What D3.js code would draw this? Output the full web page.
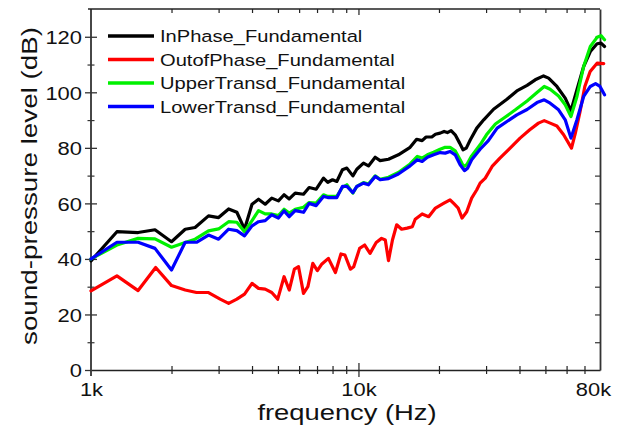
<!DOCTYPE html>
<html>
<head>
<meta charset="utf-8">
<script src="https://cdn.jsdelivr.net/npm/d3@7"></script>
<style>
  html, body { margin: 0; padding: 0; background: #fff; }
  svg { display: block; }
</style>
</head>
<body>
<div id="chart"></div>
<script>
// frequencies in kHz, levels in dB
const freqInPhase = [1.0, 1.25, 1.5, 1.735, 2.0, 2.25, 2.45, 2.75, 3.0, 3.27, 3.51, 3.75, 4.0, 4.23, 4.48, 4.74, 5.02, 5.27, 5.51, 5.8, 6.23, 6.54, 6.95, 7.4, 7.68, 8.0, 8.3, 8.71, 9.05, 9.53, 9.86, 10.44, 10.9, 11.55, 12.05, 12.95, 14.1, 15.6, 16.5, 17.3, 17.9, 18.8, 19.4, 20.2, 20.9, 21.5, 22.2, 23.0, 23.9, 24.6, 25.3, 26.2, 27.7, 29.4, 32.0, 35.9, 39.1, 42.7, 45.8, 49.2, 51.4, 55.2, 59.3, 62.3, 65.6, 69.5, 73.6, 78.0, 80.7, 83.2];
const dbInPhase = [39.3, 49.8, 49.5, 50.5, 46.2, 50.7, 51.3, 55.5, 54.9, 58.0, 56.8, 50.7, 59.7, 61.5, 59.7, 61.9, 60.9, 63.1, 61.6, 63.7, 63.3, 65.7, 65.1, 69.1, 67.6, 68.5, 67.9, 72.1, 72.7, 69.9, 72.3, 74.5, 73.5, 76.6, 75.4, 75.9, 77.5, 80.2, 83.1, 82.6, 83.9, 83.9, 84.9, 85.3, 85.9, 85.5, 86.2, 84.7, 81.7, 79.3, 79.9, 82.9, 87.1, 90.1, 93.9, 97.5, 100.5, 102.5, 104.5, 105.9, 105.1, 102.1, 97.9, 93.4, 100.9, 109.3, 114.7, 117.5, 117.7, 116.5];

const freqOutPhase = [1.0, 1.25, 1.5, 1.745, 2.0, 2.25, 2.48, 2.75, 3.04, 3.27, 3.51, 3.75, 4.0, 4.23, 4.48, 4.74, 4.99, 5.27, 5.51, 5.76, 5.97, 6.23, 6.47, 6.75, 7.02, 7.3, 7.72, 8.2, 8.6, 8.9, 9.33, 9.6, 10.1, 10.55, 11.05, 11.65, 12.2, 12.6, 12.95, 13.4, 13.9, 14.5, 15.2, 15.9, 16.3, 17.3, 18.3, 19.4, 20.8, 22.0, 22.8, 23.6, 24.4, 25.4, 26.5, 27.7, 28.5, 29.8, 31.6, 33.8, 36.9, 40.2, 43.7, 47.1, 49.5, 52.1, 55.2, 58.5, 62.6, 64.7, 67.4, 70.2, 73.5, 78.0, 82.6];
const dbOutPhase = [28.5, 33.9, 28.6, 36.9, 30.4, 28.8, 27.9, 27.9, 25.5, 24.0, 25.5, 27.3, 31.2, 29.4, 29.1, 27.9, 25.5, 33.6, 28.8, 36.3, 37.2, 27.6, 30.0, 38.4, 35.8, 38.2, 40.2, 35.1, 41.8, 41.4, 36.3, 37.2, 43.8, 45.0, 42.0, 45.9, 47.4, 46.8, 39.4, 46.8, 52.3, 50.7, 51.1, 51.6, 54.3, 56.2, 55.2, 58.3, 60.0, 61.3, 59.8, 58.3, 54.7, 57.0, 61.9, 64.9, 67.3, 69.1, 73.3, 76.3, 79.9, 83.5, 86.5, 88.9, 89.8, 88.9, 87.9, 84.7, 79.9, 85.3, 93.1, 102.1, 107.5, 110.5, 110.3];

const freqUpper = [1.0, 1.25, 1.5, 1.735, 2.0, 2.25, 2.45, 2.75, 3.0, 3.27, 3.51, 3.75, 4.0, 4.23, 4.48, 4.74, 5.02, 5.27, 5.51, 5.8, 6.23, 6.54, 6.95, 7.4, 7.68, 8.0, 8.3, 8.71, 9.05, 9.53, 9.86, 10.44, 10.9, 11.55, 12.05, 12.95, 14.1, 15.6, 16.6, 17.3, 18.1, 19.1, 20.2, 21.1, 22.0, 23.0, 24.0, 24.7, 25.4, 26.5, 28.5, 30.1, 32.5, 35.3, 38.6, 42.7, 46.5, 49.5, 52.1, 56.0, 59.3, 62.3, 65.6, 69.5, 73.6, 78.0, 80.7, 83.2];
const dbUpper = [40.0, 45.0, 47.4, 47.2, 44.2, 45.9, 47.1, 50.1, 50.8, 53.4, 53.2, 49.8, 53.8, 57.4, 56.2, 56.2, 55.6, 57.9, 56.5, 57.9, 58.6, 60.3, 60.1, 63.1, 62.5, 62.5, 62.5, 65.8, 66.7, 63.7, 66.1, 67.5, 67.0, 69.9, 68.7, 69.4, 71.1, 74.2, 76.9, 76.3, 77.5, 78.4, 79.5, 80.2, 80.2, 78.9, 75.7, 73.3, 73.9, 77.1, 81.1, 84.7, 88.6, 91.0, 93.7, 96.9, 99.9, 102.1, 101.1, 98.7, 95.5, 91.3, 98.5, 109.3, 116.5, 119.8, 120.4, 118.9];

const freqLower = [1.0, 1.25, 1.5, 1.735, 2.0, 2.25, 2.48, 2.75, 3.0, 3.27, 3.51, 3.75, 4.0, 4.23, 4.48, 4.74, 5.02, 5.27, 5.51, 5.8, 6.23, 6.54, 6.95, 7.4, 7.68, 8.0, 8.3, 8.71, 9.05, 9.53, 9.86, 10.44, 10.9, 11.55, 12.05, 12.95, 14.1, 15.6, 16.6, 17.3, 18.1, 19.1, 20.2, 21.1, 22.0, 23.0, 24.0, 24.9, 25.6, 26.5, 28.5, 30.6, 33.0, 35.9, 39.1, 42.7, 46.5, 49.5, 52.1, 56.0, 59.3, 62.3, 65.6, 69.5, 73.6, 77.0, 80.0, 83.2];
const dbLower = [40.0, 46.0, 46.0, 43.8, 36.0, 46.0, 46.0, 48.6, 47.1, 50.7, 50.2, 48.3, 51.9, 53.4, 53.8, 55.9, 54.7, 57.3, 55.2, 57.4, 56.8, 60.0, 59.2, 62.5, 62.1, 62.1, 62.1, 66.1, 66.1, 63.9, 66.1, 67.3, 66.7, 69.7, 68.5, 68.9, 70.6, 73.5, 75.7, 75.1, 76.6, 77.5, 78.3, 78.1, 78.7, 77.5, 73.9, 71.8, 72.7, 75.7, 79.5, 82.6, 87.1, 89.5, 91.9, 93.8, 96.3, 97.3, 96.1, 93.7, 90.1, 83.5, 90.1, 98.5, 102.1, 103.1, 102.1, 99.1];

const seriesNames = ["InPhase_Fundamental", "OutofPhase_Fundamental", "UpperTransd_Fundamental", "LowerTransd_Fundamental"];
const seriesColors = ["#000000", "#ff0000", "#00f000", "#0000ff"];

// tick values
const yMajor = [0, 20, 40, 60, 80, 100, 120];
const yMinor = [10, 30, 50, 70, 90, 110];
const yRight = [10, 20, 30, 40, 50, 60, 70, 80, 90, 100, 110, 120];
const xLabelled = [1, 10, 80];
const xMajor = [1, 10];
const xMinor = [2, 3, 4, 5, 6, 7, 8, 9, 20, 30, 40, 50, 60, 70];

const W = 622, H = 427;
const FONT = '"Liberation Sans", Arial, Helvetica, sans-serif';
const plot = { left: 91, right: 600, top: 9, bottom: 370 };

const series = seriesNames.map((name, i) => {
    const f = [freqInPhase, freqOutPhase, freqUpper, freqLower][i];
    const v = [dbInPhase, dbOutPhase, dbUpper, dbLower][i];
    return { name, color: seriesColors[i], points: f.map((d, j) => ({ f: d, db: v[j] })) };
});

const x = d3.scaleLog().domain([1, 80]).range([plot.left, plot.right]);
const y = d3.scaleLinear().domain([0, 130]).range([plot.bottom, plot.top]);

const svg = d3.select("#chart").append("svg")
    .attr("width", W)
    .attr("height", H)
    .attr("font-family", FONT);

// draws an axis that only carries tick marks
const tickOnly = (axis, tx, ty, stroke, sw) => {
    const g = svg.append("g")
        .attr("transform", `translate(${tx},${ty})`)
        .call(axis.tickFormat("").tickSizeOuter(0));
    g.select(".domain").remove();
    g.selectAll(".tick line").attr("stroke", stroke).attr("stroke-width", sw);
    return g;
};

const axisCol = "#222";

// frame (domain lines)
const gBottom = svg.append("g")
    .attr("transform", `translate(0,${plot.bottom})`)
    .call(d3.axisBottom(x).tickValues(xLabelled).tickSize(0).tickSizeOuter(0)
        .tickFormat(d => d + "k"));
gBottom.select(".domain").attr("stroke", axisCol).attr("stroke-width", 1.4);
gBottom.attr("font-family", FONT).attr("font-size", 18.4);
gBottom.selectAll(".tick text")
    .attr("y", null).attr("dy", null)
    .attr("fill", "#111")
    .attr("transform", d => `translate(${d === 80 ? -7 : 0},26) scale(1.19,1)`);

const gLeft = svg.append("g")
    .attr("transform", `translate(${plot.left},0)`)
    .call(d3.axisLeft(y).tickValues(yMajor).tickSize(6).tickSizeOuter(0));
gLeft.select(".domain").attr("stroke", "#333").attr("stroke-width", 1.8)
    .attr("d", `M0,${plot.bottom + 6}V${plot.top}`);
gLeft.selectAll(".tick line").attr("stroke", "#333").attr("stroke-width", 1.3);
gLeft.attr("font-family", FONT).attr("font-size", 18.6);
gLeft.selectAll(".tick text")
    .attr("x", null).attr("dy", null)
    .attr("fill", "#111")
    .attr("transform", "translate(-9,6.7) scale(1.18,1)");

const gTop = svg.append("g")
    .attr("transform", `translate(0,${plot.top})`)
    .call(d3.axisBottom(x).tickValues(xMinor).tickSize(4).tickSizeOuter(0).tickFormat(""));
gTop.select(".domain").attr("stroke", axisCol).attr("stroke-width", 1.4)
    .attr("d", `M${plot.left - 3},0H${plot.right}`);
gTop.selectAll(".tick line").attr("stroke", axisCol).attr("stroke-width", 1.2);
tickOnly(d3.axisBottom(x).tickValues([10]).tickSize(6), 0, plot.top, axisCol, 1.2);

const gRight = svg.append("g")
    .attr("transform", `translate(${plot.right},0)`)
    .call(d3.axisLeft(y).tickValues(yRight).tickSize(5).tickSizeOuter(0).tickFormat(""));
gRight.select(".domain").attr("stroke", "#333").attr("stroke-width", 1.8);
gRight.selectAll(".tick line").attr("stroke", "#333").attr("stroke-width", 1.2);

// crossing ticks on left and bottom
tickOnly(d3.axisRight(y).tickValues(yMajor.slice(1)).tickSize(6), plot.left, 0, "#333", 1.3);
tickOnly(d3.axisLeft(y).tickValues(yMinor).tickSize(3.5), plot.left, 0, "#333", 1.2);
tickOnly(d3.axisRight(y).tickValues(yMinor).tickSize(3.5), plot.left, 0, "#333", 1.2);
tickOnly(d3.axisBottom(x).tickValues(xMinor).tickSize(4), 0, plot.bottom, axisCol, 1.2);
tickOnly(d3.axisTop(x).tickValues(xMinor).tickSize(4), 0, plot.bottom, axisCol, 1.2);
tickOnly(d3.axisBottom(x).tickValues(xMajor.slice(1)).tickSize(7), 0, plot.bottom, axisCol, 1.2);
tickOnly(d3.axisTop(x).tickValues(xMajor.slice(1)).tickSize(7), 0, plot.bottom, axisCol, 1.2);

// axis titles
svg.append("text")
    .attr("transform", "translate(347,420) scale(1.29,1)")
    .attr("text-anchor", "middle")
    .attr("font-size", 21.2)
    .attr("fill", "#111")
    .text("frequency (Hz)");

svg.append("text")
    .attr("transform", "translate(36.7,186) rotate(-90) scale(1.235,1)")
    .attr("text-anchor", "middle")
    .attr("font-size", 22.5)
    .attr("fill", "#111")
    .text("sound-pressure level (dB)");

// curves
const line = d3.line()
    .x(d => x(d.f))
    .y(d => y(d.db));

svg.append("g")
    .selectAll("path")
    .data(series)
    .join("path")
    .attr("d", d => line(d.points))
    .attr("fill", "none")
    .attr("stroke", d => d.color)
    .attr("stroke-width", 3.2)
    .attr("stroke-linejoin", "round")
    .attr("stroke-linecap", "round");

// legend
const legend = svg.append("g");
series.forEach((s, i) => {
    const ly = 36 + i * 23.5;
    legend.append("line")
        .attr("x1", 108).attr("x2", 154)
        .attr("y1", ly).attr("y2", ly)
        .attr("stroke", s.color)
        .attr("stroke-width", 3.4);
    legend.append("text")
        .attr("transform", `translate(160,${ly + 6}) scale(1.17,1)`)
        .attr("font-size", 17.2)
        .attr("fill", "#111")
        .text(s.name);
});
</script>
</body>
</html>
